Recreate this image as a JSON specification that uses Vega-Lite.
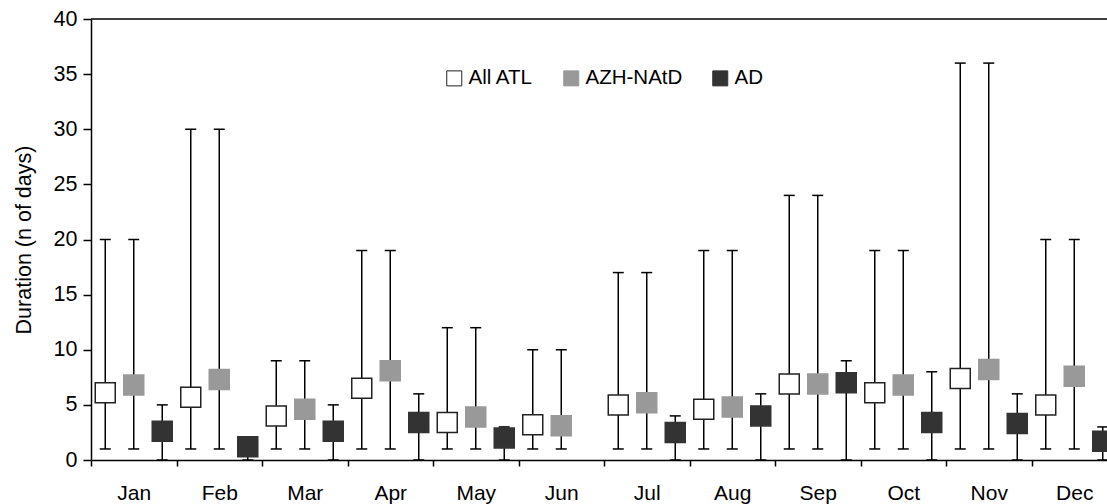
{
  "$schema": "https://vega.github.io/schema/vega-lite/v6.json",
  "autosize": {"type": "none"},
  "padding": {"left": 91, "top": 19, "right": 0, "bottom": 44},
  "width": 1016,
  "height": 441,
  "background": "white",
  "config": {
    "view": {"stroke": null},
    "font": "Liberation Sans",
    "axis": {
      "domainColor": "black",
      "tickColor": "black",
      "labelColor": "black",
      "titleColor": "black",
      "domainWidth": 1.5,
      "tickWidth": 1.5,
      "grid": false
    }
  },
  "data": {
    "values": [
      {"month": "Jan", "series": "All ATL", "mean": 6.1, "min": 1, "max": 20},
      {"month": "Jan", "series": "AZH-NAtD", "mean": 6.8, "min": 1, "max": 20},
      {"month": "Jan", "series": "AD", "mean": 2.6, "min": 0, "max": 5},
      {"month": "Feb", "series": "All ATL", "mean": 5.7, "min": 1, "max": 30},
      {"month": "Feb", "series": "AZH-NAtD", "mean": 7.3, "min": 1, "max": 30},
      {"month": "Feb", "series": "AD", "mean": 1.2, "min": 0, "max": 2},
      {"month": "Mar", "series": "All ATL", "mean": 4.0, "min": 1, "max": 9},
      {"month": "Mar", "series": "AZH-NAtD", "mean": 4.6, "min": 1, "max": 9},
      {"month": "Mar", "series": "AD", "mean": 2.6, "min": 0, "max": 5},
      {"month": "Apr", "series": "All ATL", "mean": 6.5, "min": 1, "max": 19},
      {"month": "Apr", "series": "AZH-NAtD", "mean": 8.1, "min": 1, "max": 19},
      {"month": "Apr", "series": "AD", "mean": 3.4, "min": 0, "max": 6},
      {"month": "May", "series": "All ATL", "mean": 3.4, "min": 1, "max": 12},
      {"month": "May", "series": "AZH-NAtD", "mean": 3.9, "min": 1, "max": 12},
      {"month": "May", "series": "AD", "mean": 2.0, "min": 0, "max": 3},
      {"month": "Jun", "series": "All ATL", "mean": 3.2, "min": 1, "max": 10},
      {"month": "Jun", "series": "AZH-NAtD", "mean": 3.1, "min": 1, "max": 10},
      {"month": "Jul", "series": "All ATL", "mean": 5.0, "min": 1, "max": 17},
      {"month": "Jul", "series": "AZH-NAtD", "mean": 5.2, "min": 1, "max": 17},
      {"month": "Jul", "series": "AD", "mean": 2.5, "min": 0, "max": 4},
      {"month": "Aug", "series": "All ATL", "mean": 4.6, "min": 1, "max": 19},
      {"month": "Aug", "series": "AZH-NAtD", "mean": 4.8, "min": 1, "max": 19},
      {"month": "Aug", "series": "AD", "mean": 4.0, "min": 0, "max": 6},
      {"month": "Sep", "series": "All ATL", "mean": 6.9, "min": 1, "max": 24},
      {"month": "Sep", "series": "AZH-NAtD", "mean": 6.9, "min": 1, "max": 24},
      {"month": "Sep", "series": "AD", "mean": 7.0, "min": 0, "max": 9},
      {"month": "Oct", "series": "All ATL", "mean": 6.1, "min": 1, "max": 19},
      {"month": "Oct", "series": "AZH-NAtD", "mean": 6.8, "min": 1, "max": 19},
      {"month": "Oct", "series": "AD", "mean": 3.4, "min": 0, "max": 8},
      {"month": "Nov", "series": "All ATL", "mean": 7.4, "min": 1, "max": 36},
      {"month": "Nov", "series": "AZH-NAtD", "mean": 8.2, "min": 1, "max": 36},
      {"month": "Nov", "series": "AD", "mean": 3.3, "min": 0, "max": 6},
      {"month": "Dec", "series": "All ATL", "mean": 5.0, "min": 1, "max": 20},
      {"month": "Dec", "series": "AZH-NAtD", "mean": 7.6, "min": 1, "max": 20},
      {"month": "Dec", "series": "AD", "mean": 1.7, "min": 0, "max": 3}
    ]
  },
  "encoding": {
    "x": {
      "field": "month",
      "type": "nominal",
      "scale": {
        "domain": ["Jan", "Feb", "Mar", "Apr", "May", "Jun", "Jul", "Aug", "Sep", "Oct", "Nov", "Dec"],
        "paddingInner": 0,
        "paddingOuter": 0,
        "range": [0, 1026]
      },
      "axis": {
        "title": null,
        "labelAngle": 0,
        "tickBand": "extent",
        "tickSize": 6,
        "labelPadding": 16,
        "labelFontSize": 21
      }
    },
    "xOffset": {
      "field": "series",
      "type": "nominal",
      "scale": {"domain": ["All ATL", "AZH-NAtD", "AD"], "paddingInner": 0, "paddingOuter": 0}
    }
  },
  "layer": [
    {
      "mark": {"type": "rule", "color": "black", "strokeWidth": 1.5},
      "encoding": {
        "y": {
          "field": "min",
          "type": "quantitative",
          "scale": {"domain": [0, 40], "nice": false},
          "axis": {
            "values": [0, 5, 10, 15, 20, 25, 30, 35, 40],
            "tickSize": 8,
            "labelPadding": 6,
            "labelFontSize": 21.5,
            "title": "Duration (n of days)",
            "titleFontSize": 21.5,
            "titleFontWeight": "normal",
            "titlePadding": 18
          }
        },
        "y2": {"field": "max"}
      }
    },
    {
      "mark": {"type": "tick", "orient": "horizontal", "size": 11, "thickness": 1.5, "color": "black", "opacity": 1},
      "encoding": {"y": {"field": "max", "type": "quantitative"}}
    },
    {
      "mark": {"type": "tick", "orient": "horizontal", "size": 11, "thickness": 1.5, "color": "black", "opacity": 1},
      "encoding": {"y": {"field": "min", "type": "quantitative"}}
    },
    {
      "mark": {"type": "point", "shape": "square", "size": 400, "filled": true, "opacity": 1, "strokeWidth": 1.5},
      "encoding": {
        "y": {"field": "mean", "type": "quantitative"},
        "fill": {
          "field": "series",
          "type": "nominal",
          "scale": {"domain": ["All ATL", "AZH-NAtD", "AD"], "range": ["#ffffff", "#999999", "#333333"]},
          "legend": {
            "orient": "none",
            "legendX": 353,
            "legendY": 49,
            "direction": "horizontal",
            "title": null,
            "symbolType": "square",
            "symbolSize": 225,
            "symbolStrokeWidth": 1,
            "labelFontSize": 20.5,
            "labelColor": "black",
            "labelOffset": 4,
            "columnPadding": 27,
            "padding": 0
          }
        },
        "stroke": {
          "field": "series",
          "type": "nominal",
          "scale": {"domain": ["All ATL", "AZH-NAtD", "AD"], "range": ["#222222", "#999999", "#333333"]}
        }
      }
    },
    {
      "data": {"values": [{}]},
      "mark": {"type": "rule", "color": "black", "strokeWidth": 1.5},
      "encoding": {"y": {"datum": 40}, "x": null, "xOffset": null}
    }
  ]
}
